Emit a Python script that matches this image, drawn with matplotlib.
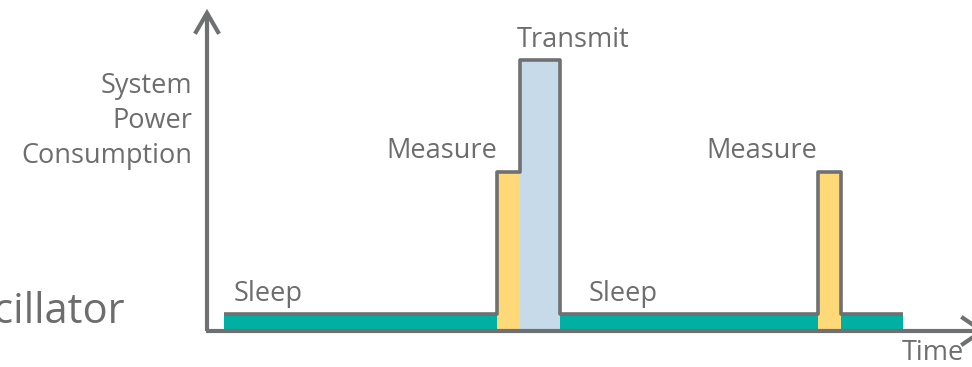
import matplotlib
matplotlib.use("Agg")
import matplotlib.pyplot as plt
import numpy as np

# ---- data (time units, power units) ----
phases = ["Sleep", "Measure", "Transmit", "Sleep", "Measure", "Sleep"]
starts = [17, 290, 313, 353, 611, 634]
durations = [273, 23, 40, 258, 23, 62]
power = [17, 159, 271, 17, 159, 17]
phase_colors = {"Sleep": "#00B0A2", "Measure": "#FFD878", "Transmit": "#C6DAEA"}

labels = ["Sleep", "Measure", "Transmit", "Sleep", "Measure"]
label_t = [27, 179, 310, 382, 499]
label_p = [30, 173, 284, 30, 173]

GREY = "#6E7071"
TXT = "#6D6D6D"
FONT = "Open Sans"

fig = plt.figure(figsize=(9.72, 3.67), dpi=100)
ax = fig.add_axes([0, 0, 1, 1])
ax.set_xlim(-207, 765)
ax.set_ylim(-36, 331)
ax.axis("off")

# filled bars
for ph, s, d, p in zip(phases, starts, durations, power):
    ax.bar(s, p, width=d, bottom=0, align="edge", color=phase_colors[ph],
           edgecolor="none", zorder=2)

# step outline on top
xs, ys = [], []
for s, d, p in zip(starts, durations, power):
    xs += [s, s + d]
    ys += [p, p]
ax.plot(xs, ys, color=GREY, lw=2.6, solid_joinstyle="round",
        solid_capstyle="butt", zorder=3)

# axes with open arrowheads
ax.plot([0, 0], [0, 318], color=GREY, lw=3, solid_capstyle="butt", zorder=4)
ax.plot([-11, 0, 11], [299, 318, 299], color=GREY, lw=3,
        solid_joinstyle="miter", zorder=4)
ax.plot([-1.5, 775], [0, 0], color=GREY, lw=3, solid_capstyle="butt", zorder=4)
ax.plot([756, 775, 756], [13, 0, -13], color=GREY, lw=3,
        solid_joinstyle="miter", zorder=4)

# texts
fs = 19.5
for lab, t, p in zip(labels, label_t, label_p):
    ax.text(t, p, lab, ha="left", va="baseline", fontsize=fs, color=TXT,
            family=FONT)
for lab, p in zip(["System", "Power", "Consumption"], [238, 203, 168]):
    ax.text(-15, p, lab, ha="right", va="baseline", fontsize=fs, color=TXT,
            family=FONT)
ax.text(695, -29, "Time", ha="left", va="baseline", fontsize=fs, color=TXT,
        family=FONT)
ax.text(-82, 8, "Oscillator", ha="right", va="baseline", fontsize=30,
        color=TXT, family=FONT)

fig.savefig("out.png", dpi=100)
